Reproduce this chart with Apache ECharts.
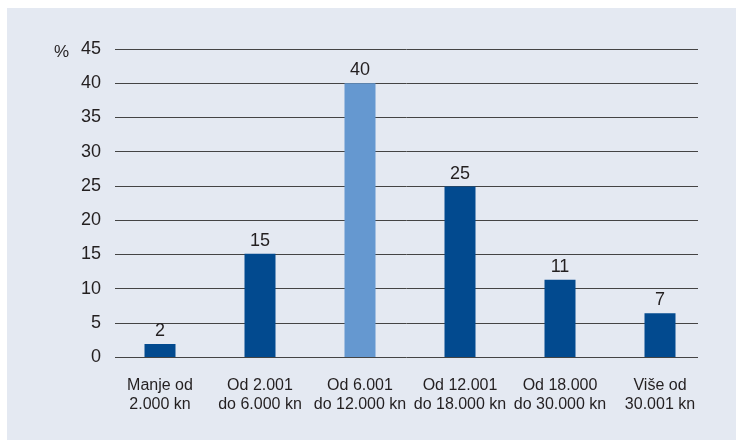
<!DOCTYPE html>
<html>
<head>
<meta charset="utf-8">
<script src="https://cdn.jsdelivr.net/npm/echarts@6/dist/echarts.min.js"></script>
<style>
html,body{margin:0;padding:0;background:#fff;}
#chart{width:736px;height:440px;}
</style>
</head>
<body>
<div id="chart"></div>
<script>
const categories = ['Manje od\n2.000 kn', 'Od 2.001\ndo 6.000 kn', 'Od 6.001\ndo 12.000 kn', 'Od 12.001\ndo 18.000 kn', 'Od 18.000\ndo 30.000 kn', 'Više od\n30.001 kn'];
const values = [1.9, 15.1, 40, 24.9, 11.3, 6.4];
const valueLabels = ['2', '15', '40', '25', '11', '7'];
const highlightIndex = 2;
const yMin = 0, yMax = 45, yStep = 5;

const FONT = "'Liberation Sans', Arial, sans-serif";
const TXT = '#231f20';

const chart = echarts.init(document.getElementById('chart'), null, {renderer: 'canvas'});
chart.setOption({
  animation: false,
  backgroundColor: '#ffffff',
  graphic: [
    {type: 'rect', z: -10, shape: {x: 7, y: 8, width: 729, height: 432}, style: {fill: '#e4e9f2'}},
    {type: 'text', x: 54, y: 52, style: {text: '%', fontFamily: FONT, fontSize: 17, fill: TXT, verticalAlign: 'middle', textAlign: 'left'}}
  ],
  grid: [
    {left: 115, width: 583, top: 49, height: 308},
    {left: 110, width: 600, top: 49, height: 308}
  ],
  xAxis: [
    {gridIndex: 0, type: 'value', show: false, min: 0, max: 1},
    {gridIndex: 1, type: 'category', data: categories,
     axisLine: {show: false}, axisTick: {show: false},
     axisLabel: {margin: 19, fontFamily: FONT, fontSize: 16, color: TXT, lineHeight: 19, interval: 0}}
  ],
  yAxis: [
    {gridIndex: 0, type: 'value', min: yMin, max: yMax, interval: yStep,
     axisLine: {show: false}, axisTick: {show: false},
     axisLabel: {margin: 14, fontFamily: FONT, fontSize: 18, color: TXT},
     splitLine: {show: true, lineStyle: {color: '#444', width: 1}}},
    {gridIndex: 1, type: 'value', min: yMin, max: yMax, interval: yStep, show: false, splitLine: {show: false}}
  ],
  series: [{
    type: 'bar', xAxisIndex: 1, yAxisIndex: 1,
    barWidth: 31,
    data: values.map((v, i) => ({value: v, itemStyle: {color: i === highlightIndex ? '#6598d0' : '#024a8f'}})),
    label: {show: true, position: 'top', distance: 4, fontFamily: FONT, fontSize: 18, color: TXT,
            formatter: p => valueLabels[p.dataIndex]}
  }]
});
</script>
</body>
</html>
